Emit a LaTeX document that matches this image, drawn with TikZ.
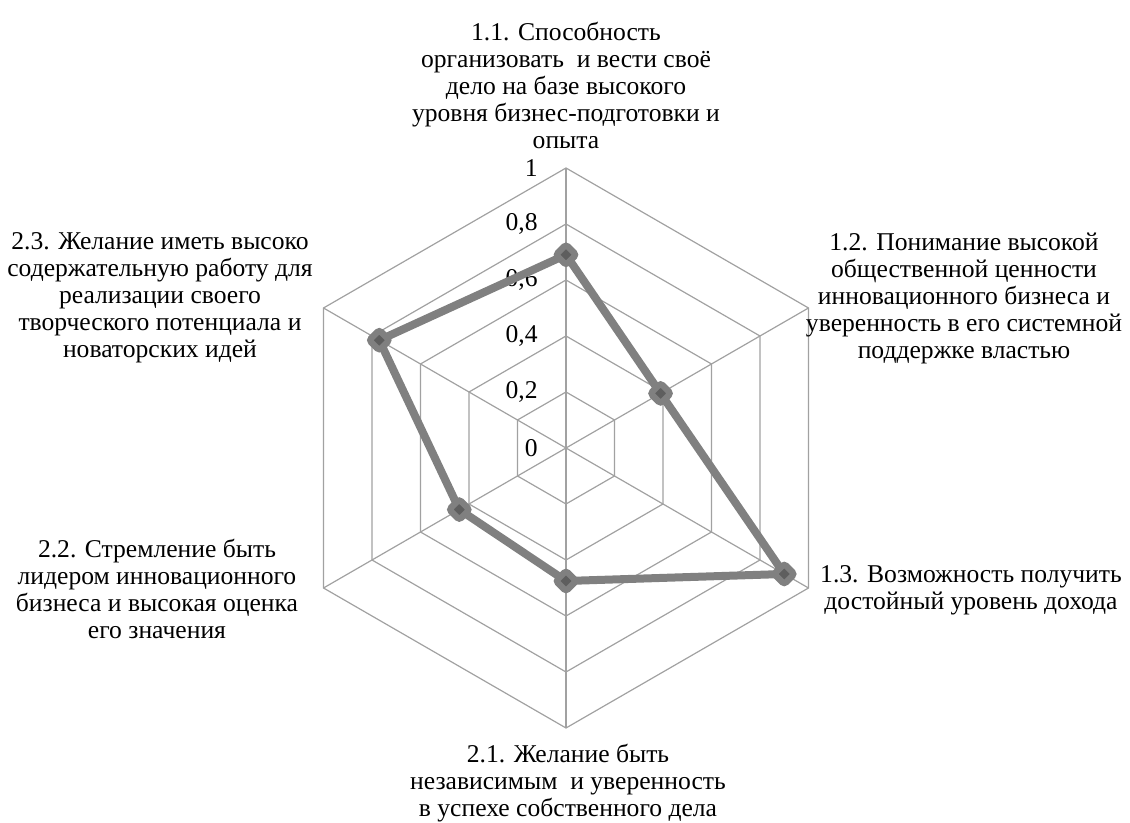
\documentclass[tikz,border=0pt]{standalone}
\usepackage{fontspec}
\setmainfont{Liberation Serif}
\usepackage{tikz}
\usetikzlibrary{shapes.geometric}

\begin{document}
\setlength{\lineskiplimit}{-10pt}
\begin{tikzpicture}[x=0.5pt,y=0.5pt,
	font=\fontsize{12.8pt}{13.5pt}\selectfont,
	grid/.style={draw=black!37,line width=0.6pt},
	series/.style={draw=black!50,line width=4pt,line join=round},
	marker/.style={diamond,draw=black!50,fill=black!63,line width=3.2pt,rounded corners=1.5pt,inner sep=0pt,minimum size=11.5pt},
	axislabel/.style={align=center,inner sep=0pt},
	ticklabel/.style={anchor=east,inner sep=0pt}]

	\useasboundingbox (-566,-375) rectangle (564,448);

	% Grid
	\foreach \r in {56,112,168,224,280}
		\draw[grid] (90:\r) -- (30:\r) -- (-30:\r) -- (-90:\r) -- (-150:\r) -- (150:\r) -- cycle;
	\foreach \a in {90,30,-30,-90,-150,150}
		\draw[grid] (0,0) -- (\a:280);

	% Scale
	\foreach \v/\t in {0/0,1/{0,2},2/{0,4},3/{0,6},4/{0,8},5/1}
		\node[ticklabel] (tick\v) at (-28,56*\v) {\t};

	% Axis labels
	\node[axislabel] (a11) at (0,363) {1.1. Способность\\организовать \ и вести своё\\дело на базе высокого\\уровня бизнес-подготовки и\\опыта};
	\node[axislabel] (a12) at (398,150) {1.2. Понимание высокой\\общественной ценности\\инновационного бизнеса и\\уверенность в его системной\\поддержке властью};
	\node[axislabel] (a13) at (405,-142) {1.3. Возможность получить\\достойный уровень дохода};
	\node[axislabel] (a21) at (2,-335) {2.1. Желание быть\\независимым \ и уверенность\\в успехе собственного дела};
	\node[axislabel] (a22) at (-409,-141) {2.2. Стремление быть\\лидером инновационного\\бизнеса и высокая оценка\\его значения};
	\node[axislabel] (a23) at (-406,150) {2.3. Желание иметь высоко\\содержательную работу для\\реализации своего\\творческого потенциала и\\новаторских идей};

	% Series
	\coordinate (d11) at (90:{0.69*280});
	\coordinate (d12) at (30:{0.39*280});
	\coordinate (d13) at (-30:{0.90*280});
	\coordinate (d21) at (-90:{0.475*280});
	\coordinate (d22) at (-150:{0.44*280});
	\coordinate (d23) at (150:{0.77*280});
	\draw[series] (d11) -- (d12) -- (d13) -- (d21) -- (d22) -- (d23) -- cycle;
	\foreach \p in {11,12,13,21,22,23}
		\node[marker] (m\p) at (d\p) {};
\end{tikzpicture}
\end{document}
